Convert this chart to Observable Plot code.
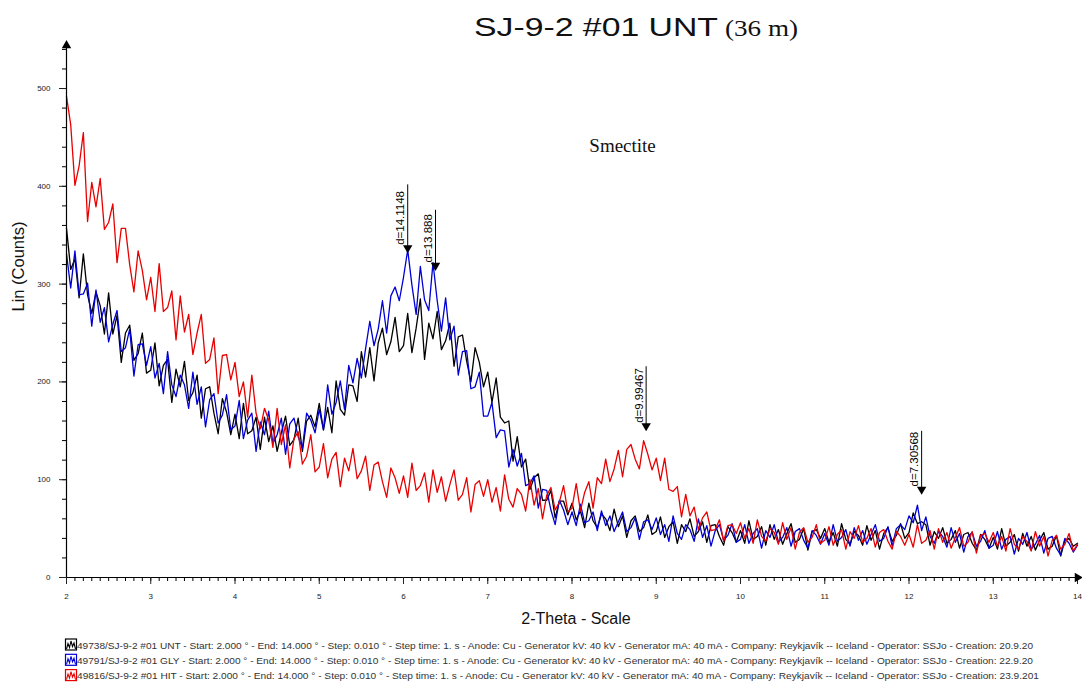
<!DOCTYPE html>
<html><head><meta charset="utf-8">
<script src="https://cdn.jsdelivr.net/npm/d3@7"></script>
<script src="https://cdn.jsdelivr.net/npm/@observablehq/plot@0.6"></script>
<style>
html,body{margin:0;padding:0;background:#fff;}
body{width:1082px;height:684px;overflow:hidden;position:relative;font-family:"Liberation Sans",Arial,sans-serif;}
#title{position:absolute;left:0;top:0;z-index:2;pointer-events:none;}
#chart{position:absolute;left:0;top:40px;}
#legend{position:absolute;left:0;top:635px;}
svg{display:block;}
</style>
</head><body>
<div id="chart"></div>
<div id="title"></div>
<div id="legend"></div>
<script>
// ---- data ----
const thetaStart = 2.0;   // 2-Theta start (deg)
const thetaStep = 0.05;   // sampling of the values below (deg)

const unt = [
357,315,326,286,331,289,270,292,278,249,291,249,268,220,250,258,222,229,250,209,
212,240,196,217,223,179,213,195,221,181,189,207,163,193,195,168,147,183,169,146,
167,142,178,147,150,164,131,164,139,155,129,148,165,135,141,163,129,160,166,154,
178,151,174,148,201,172,166,197,196,180,231,205,235,201,240,255,228,241,266,231,
237,270,230,255,285,223,260,244,272,233,242,260,216,246,248,221,200,235,220,195,
210,179,204,164,158,160,119,144,113,121,90,102,106,79,79,89,61,78,78,64,
76,59,68,51,76,58,51,65,60,48,70,52,63,41,58,63,47,51,64,44,
47,62,41,52,57,35,54,47,60,42,47,57,36,53,54,42,33,52,46,36,
48,35,58,39,42,52,33,54,39,49,34,45,55,36,39,50,28,47,49,40,
50,36,46,32,55,39,34,47,43,33,53,38,48,29,45,51,37,43,55,40,
46,66,55,57,54,33,47,40,51,35,39,48,30,44,46,35,28,44,39,30,
41,29,50,32,36,44,27,45,32,42,28,38,46,29,32,43,22,38,40,32,
35];

const gly = [
331,296,334,289,290,301,257,294,261,276,241,259,273,231,235,254,206,238,239,217,
236,204,219,188,231,197,185,207,197,173,210,177,195,154,182,188,158,166,187,151,
155,181,142,161,168,129,159,146,170,137,146,163,126,157,163,144,132,168,161,148,
172,151,197,167,179,201,172,217,199,224,204,234,262,237,254,283,250,288,297,283,
307,335,299,269,318,284,273,322,283,252,286,243,257,207,231,232,193,195,210,165,
165,179,143,151,150,113,131,114,127,94,96,104,71,90,89,69,54,79,69,54,
67,53,75,56,58,67,48,68,53,63,47,57,67,47,51,61,39,57,59,49,
61,44,54,37,63,45,39,54,49,37,60,41,53,32,48,54,38,43,55,36,
39,54,35,45,50,30,48,41,54,36,41,51,32,47,50,38,30,48,43,34,
45,33,54,37,41,49,32,51,38,48,34,44,54,37,40,52,32,50,54,49,
63,56,74,48,62,42,35,47,42,31,51,36,45,26,42,46,32,37,48,30,
33,47,29,39,42,24,40,34,46,29,34,43,25,40,42,30,23,40,35,26,
33];

const hit = [
492,463,401,421,455,364,404,379,408,356,363,382,322,357,357,320,292,334,314,284,
307,272,321,272,276,293,243,288,251,269,228,250,269,219,223,245,188,227,228,202,
220,185,200,164,207,168,152,173,161,133,173,136,156,112,142,149,116,124,146,108,
113,137,102,121,128,93,122,109,132,101,109,124,89,115,118,98,82,112,102,86,
104,82,117,89,94,107,77,110,87,103,78,95,110,79,85,102,67,95,99,83,
100,77,92,68,105,80,72,91,85,68,100,74,91,60,84,92,69,77,94,67,
71,96,68,87,98,71,102,96,121,98,111,130,103,131,136,121,111,140,126,110,
122,99,122,90,88,93,62,85,63,72,49,61,67,48,49,59,37,53,54,45,
56,40,50,35,59,42,37,50,46,34,56,39,51,29,46,51,36,41,54,35,
38,52,33,44,49,29,47,40,53,36,40,50,31,46,49,37,29,47,42,33,
44,31,54,35,38,48,29,50,36,46,30,41,51,32,36,47,25,43,45,36,
46,32,42,27,50,34,29,42,37,27,47,32,42,22,38,43,29,34,45,27,
34];

const seriesNames = ["UNT", "GLY", "HIT"];
const seriesColors = ["#000000", "#0000d6", "#e80000"];

const xTicks = [2,3,4,5,6,7,8,9,10,11,12,13,14];
const yTicks = [0,100,200,300,400,500];
const xDomain = [2, 14];
const yDomain = [0, 544];

const peakLabels = ["d=14.1148", "d=13.888", "d=9.99467", "d=7.30568"];
const peakX = [6.05, 6.38, 8.88, 12.15];
const peakTip = [334, 316, 152, 87];
const peakTop = [402, 376, 216, 150];

const phaseLabel = ["Smectite"];
const phaseX = [8.6];
const phaseY = [441];

const titleMain = "SJ-9-2 #01 UNT";
const titleDepth = "(36 m)";
const xLabel = "2-Theta - Scale";
const yLabel = "Lin (Counts)";

const legendTexts = [
"49738/SJ-9-2 #01 UNT - Start: 2.000 ° - End: 14.000 ° - Step: 0.010 ° - Step time: 1. s - Anode: Cu - Generator kV: 40 kV - Generator mA: 40 mA - Company: Reykjavík -- Iceland - Operator: SSJo - Creation: 20.9.20",
"49791/SJ-9-2 #01 GLY - Start: 2.000 ° - End: 14.000 ° - Step: 0.010 ° - Step time: 1. s - Anode: Cu - Generator kV: 40 kV - Generator mA: 40 mA - Company: Reykjavík -- Iceland - Operator: SSJo - Creation: 22.9.20",
"49816/SJ-9-2 #01 HIT - Start: 2.000 ° - End: 14.000 ° - Step: 0.010 ° - Step time: 1. s - Anode: Cu - Generator kV: 40 kV - Generator mA: 40 mA - Company: Reykjavík -- Iceland - Operator: SSJo - Creation: 23.9.201"
];

// ---- build ----
const FONT = "'Liberation Sans', Arial, sans-serif";
const toRows = (vals) => vals.map((v, i) => ({x: thetaStart + i * thetaStep, y: v}));
const allSeries = [unt, gly, hit];

// title
const tsvg = d3.select("#title").append("svg").attr("width", 1082).attr("height", 50);
tsvg.append("text").attr("x", 474).attr("y", 36).attr("font-family", FONT).attr("font-size", 26)
  .attr("textLength", 244).attr("lengthAdjust", "spacingAndGlyphs").attr("fill", "#111").text(titleMain);
tsvg.append("text").attr("x", 725).attr("y", 36).attr("font-family", "'Liberation Serif','Times New Roman',serif").attr("font-size", 24)
  .attr("textLength", 73).attr("lengthAdjust", "spacingAndGlyphs").attr("fill", "#111").text(titleDepth);

const minorX = d3.range(20, 141, 1).map(d => d / 10);
const minorY = d3.range(0, 541, 20);

const chart = Plot.plot({
  width: 1082,
  height: 595,
  marginTop: 5,
  marginBottom: 58,
  marginLeft: 66,
  marginRight: 5,
  style: {background: "white", fontFamily: FONT, color: "#000"},
  x: {domain: xDomain},
  y: {domain: yDomain},
  marks: [
    ...allSeries.map((vals, k) => Plot.line(toRows(vals), {x: "x", y: "y", stroke: seriesColors[k], strokeWidth: 1.3})),
    Plot.ruleY([0], {stroke: "#000", strokeWidth: 1.2}),
    Plot.ruleX([2], {stroke: "#000", strokeWidth: 1.2}),
    Plot.axisX(minorX, {anchor: "bottom", tickSize: 4, tickFormat: () => "", label: null, color: "#000"}),
    Plot.axisX(xTicks, {anchor: "bottom", tickSize: 7, tickPadding: 9, fontSize: 8, label: null, color: "#222"}),
    Plot.axisY(minorY, {anchor: "left", tickSize: 4, tickFormat: () => "", label: null, color: "#000"}),
    Plot.axisY(yTicks, {anchor: "left", tickSize: 7, tickPadding: 9, fontSize: 8, label: null, color: "#222"}),
    Plot.dot([yDomain[1]], {x: () => xDomain[0], y: d => d, symbol: "triangle", r: 3.5, fill: "#000", stroke: null}),
    Plot.dot([xDomain[1]], {x: d => d, y: () => yDomain[0], symbol: "triangle", rotate: 90, r: 3.5, fill: "#000", stroke: null}),
    Plot.link(peakLabels, {x1: (d, i) => peakX[i], x2: (d, i) => peakX[i], y1: (d, i) => peakTop[i], y2: (d, i) => peakTip[i], stroke: "#000", strokeWidth: 1}),
    Plot.dot(peakLabels, {x: (d, i) => peakX[i], y: (d, i) => peakTip[i], symbol: "triangle", rotate: 180, r: 3.5, dy: -3, fill: "#000", stroke: null}),
    Plot.text(peakLabels, {x: (d, i) => peakX[i], y: (d, i) => peakTip[i], text: d => d, rotate: -90, textAnchor: "start", dx: -7, dy: -6, fontSize: 11.5, fill: "#000"}),
    Plot.text(phaseLabel, {x: (d, i) => phaseX[i], y: (d, i) => phaseY[i], text: d => d, fontFamily: "'Liberation Serif','Times New Roman',serif", fontSize: 19, fill: "#111"}),
    Plot.text([xLabel], {frameAnchor: "bottom", dx: 4, dy: 46, fontSize: 16, fill: "#111"}),
    Plot.text([yLabel], {frameAnchor: "left", rotate: -90, dx: -48, dy: 0, fontSize: 16.5, fill: "#111"})
  ]
});
document.getElementById("chart").appendChild(chart);

// legend
const lsvg = d3.select("#legend").append("svg").attr("width", 1082).attr("height", 49);
const lengths = [956, 956, 962];
legendTexts.forEach((t, k) => {
  const yb = 13.5 + k * 15.3;
  const g = lsvg.append("g").attr("transform", `translate(65,${yb - 10})`);
  g.append("rect").attr("x", 0.5).attr("y", 0.5).attr("width", 11).attr("height", 11)
    .attr("fill", "#fff").attr("stroke", seriesColors[k]).attr("stroke-width", 1.2);
  g.append("path").attr("d", "M1.5,10.5 L3,5 L4.5,9 L6,2.5 L7.5,8 L9,4.5 L10.5,10.5")
    .attr("fill", "none").attr("stroke", seriesColors[k]).attr("stroke-width", 1.1);
  lsvg.append("text").attr("x", 77).attr("y", yb).attr("font-family", FONT).attr("font-size", 9.5)
    .attr("textLength", lengths[k]).attr("lengthAdjust", "spacingAndGlyphs").attr("fill", "#333").text(t);
});
</script>
</body></html>
